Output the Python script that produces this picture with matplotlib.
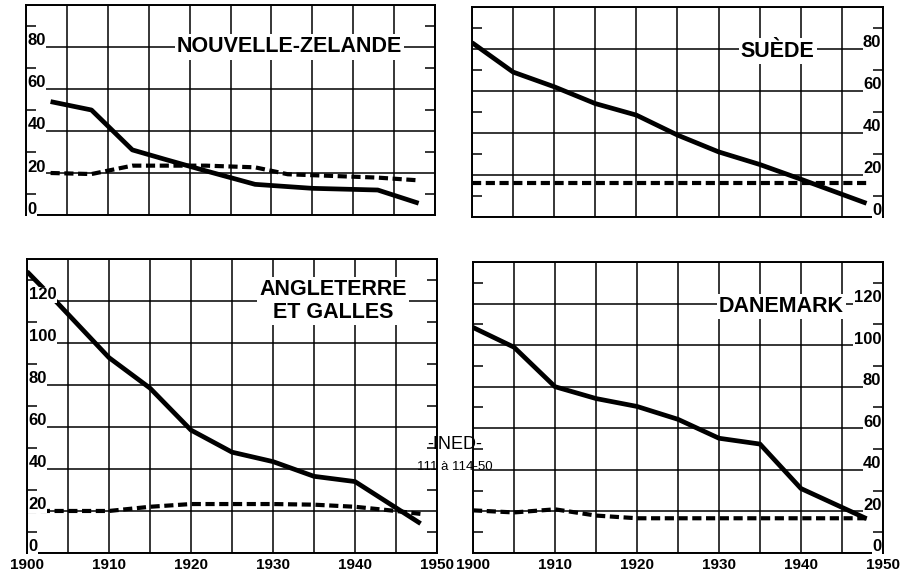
import matplotlib
matplotlib.use("Agg")
import matplotlib.pyplot as plt
from matplotlib.ticker import MultipleLocator

plt.rcParams['font.family'] = ['Liberation Sans', 'DejaVu Sans']

# --- data ---
nz_years = [1903, 1908, 1913, 1917, 1922, 1928, 1935, 1943, 1948]
nz_solid = [54, 50, 31, 26.5, 21, 14.6, 12.7, 11.9, 5.6]
nz_dash_years = [1903, 1908, 1913, 1922, 1928, 1932, 1943, 1948]
nz_dash = [20, 19.5, 23.5, 23.5, 22.7, 19.4, 17.8, 16.5]

se_years = [1900, 1905, 1910, 1915, 1920, 1925, 1930, 1935, 1940, 1948]
se_solid = [83, 69, 62, 54, 48.5, 39, 31, 25, 18, 6.5]
se_dash_years = [1900, 1948]
se_dash = [16, 16]

gb_years = [1900, 1903, 1910, 1915, 1920, 1925, 1930, 1935, 1940, 1948]
gb_solid = [134, 122, 93, 78.5, 58.5, 48, 43.5, 36.5, 34, 14]
gb_dash_years = [1900, 1910, 1915, 1920, 1930, 1935, 1940, 1945, 1948]
gb_dash = [20, 20, 22, 23.3, 23.3, 23, 22, 20, 18.6]

dk_years = [1900, 1905, 1910, 1915, 1920, 1925, 1930, 1935, 1940, 1948]
dk_solid = [108.5, 99, 80, 74.3, 70.5, 64.3, 55.2, 52.4, 31, 16.5]
dk_dash_years = [1900, 1905, 1910, 1915, 1920, 1930, 1948]
dk_dash = [20.5, 19.5, 21, 18, 16.7, 16.7, 16.7]

year_labels = [1900, 1910, 1920, 1930, 1940, 1950]

fig = plt.figure(figsize=(9.07, 5.8), dpi=100)

panels = [
    # (rect, ymax, label side, title, title xy, data)
    ([0.0287, 0.6293, 0.4509, 0.3621], 100, 'left', "NOUVELLE-ZELANDE", (1932.2, 80),
     (nz_years, nz_solid, nz_dash_years, nz_dash)),
    ([0.5204, 0.6259, 0.4531, 0.3621], 100, 'right', "SUÈDE", (1937.2, 79),
     (se_years, se_solid, se_dash_years, se_dash)),
    ([0.0298, 0.0466, 0.4520, 0.5069], 140, 'left', "ANGLETERRE\nET GALLES", (1937.3, 120),
     (gb_years, gb_solid, gb_dash_years, gb_dash)),
    ([0.5215, 0.0466, 0.4520, 0.5017], 140, 'right', "DANEMARK", (1937.6, 118.5),
     (dk_years, dk_solid, dk_dash_years, dk_dash)),
]

for i, (rect, ymax, side, title, txy, (xs, ys, xd, yd)) in enumerate(panels):
    ax = fig.add_axes(rect)
    ax.set_xlim(1900, 1950)
    ax.set_ylim(0, ymax)
    ax.set_xticks(range(1900, 1951, 5))
    ax.set_yticks(range(0, ymax + 1, 20))
    ax.yaxis.set_minor_locator(MultipleLocator(10))
    ax.grid(True, which='major', color='black', lw=1.1)
    ax.tick_params(which='major', length=0, labelleft=False, labelbottom=False)
    ax.tick_params(which='minor', direction='in', length=7, width=1.1,
                   left=True, right=True)
    for s in ax.spines.values():
        s.set_linewidth(1.4)

    ax.plot(xs, ys, color='black', lw=3.4, solid_capstyle='butt', zorder=3)
    ax.plot(xd, yd, color='black', lw=3.0, dashes=(2.2, 1.1), zorder=3)

    # y labels drawn inside the frame, sitting on each gridline
    step = ymax / (rect[3] * 580)  # data units per pixel
    for v in range(0, ymax, 20):
        xpos, ha = (0.004, 'left') if side == 'left' else (0.996, 'right')
        ax.text(xpos, v + 1.5 * step, str(v), transform=ax.get_yaxis_transform(),
                ha=ha, va='baseline', fontsize=12, fontweight='bold', zorder=4,
                bbox=dict(facecolor='white', edgecolor='none', pad=0.2))

    ax.text(txy[0], txy[1], title, ha='center', va='center', fontsize=15.5,
            fontweight='bold', multialignment='center', linespacing=1.15, zorder=5,
            bbox=dict(facecolor='white', edgecolor='none', pad=1.5))

    if i >= 2:
        for yl in year_labels:
            ax.text(yl, -0.018, str(yl), transform=ax.get_xaxis_transform(),
                    ha='center', va='top', fontsize=11, fontweight='bold')

fig.text(0.5017, 0.233, "-INED-", ha='center', va='center', fontsize=13)
fig.text(0.5017, 0.195, "111 à 114-50", ha='center', va='center', fontsize=9.5)

fig.savefig("out.png", dpi=100)
